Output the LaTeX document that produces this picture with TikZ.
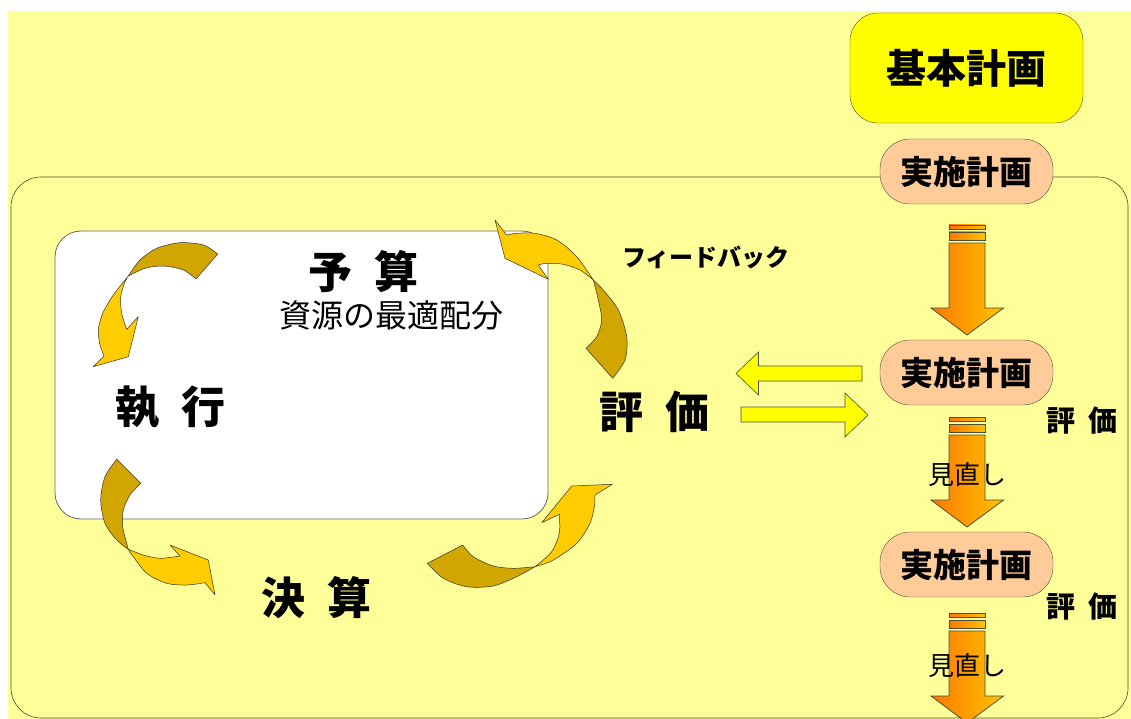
\documentclass[tikz,border=0pt]{standalone}
\usepackage{fontspec}
\setmainfont{Noto Sans CJK JP}
\definecolor{bgy}{HTML}{FFFF99}
\definecolor{boxy}{HTML}{FFFF00}
\definecolor{peach}{HTML}{FFCC99}
\definecolor{golddark}{HTML}{D1A600}
\definecolor{goldlight}{HTML}{FFCC00}
\definecolor{orA}{HTML}{FF7700}
\definecolor{orB}{HTML}{FFC400}
\definecolor{edge}{HTML}{4D4D33}
\tikzset{
  big/.style={font=\fontsize{44}{44}\selectfont\bfseries, inner sep=0pt},
  sub/.style={font=\fontsize{32}{32}\selectfont, inner sep=0pt},
  small/.style={font=\fontsize{29}{29}\selectfont\bfseries, inner sep=0pt},
  review/.style={font=\fontsize{26}{26}\selectfont, inner sep=0pt},
  fb/.style={font=\fontsize{24}{24}\selectfont\bfseries, inner sep=0pt},
  basebox/.style={draw=edge, fill=boxy, rounded corners=28pt, minimum width=233pt, minimum height=110pt, font=\fontsize{40}{40}\selectfont\bfseries, inner sep=0pt},
  pill/.style={draw=edge, fill=peach, rounded corners=30pt, minimum width=173pt, minimum height=65pt, font=\fontsize{33}{33}\selectfont\bfseries, inner sep=0pt},
  darkband/.style={fill=golddark, draw=black!80, line width=0.5pt, line join=round},
  lightband/.style={fill=goldlight, draw=black!80, line width=0.5pt, line join=round},
  yarrow/.style={fill=boxy, draw=edge, line width=0.6pt},
  oarrow/.style={left color=orA, right color=orB, draw=edge, line width=0.8pt}
}
\newcommand\blockdown[1]{%
  \shadedraw[oarrow] (949,#1) rectangle (985,{#1+4});
  \shadedraw[oarrow] (949,{#1+7}) rectangle (985,{#1+15});
  \shadedraw[oarrow] (949,{#1+18}) -- (949,{#1+83}) -- (931,{#1+83}) -- (967,{#1+110}) -- (1003.5,{#1+83}) -- (985,{#1+83}) -- (985,{#1+18}) -- cycle;
}
\begin{document}
\begin{tikzpicture}[x=1pt,y=-1pt]
\useasboundingbox (0,0) rectangle (1131,719);
\clip (0,0) rectangle (1131,719);
\fill[white] (0,0) rectangle (1131,719);
\fill[bgy] (8,11) rectangle (1131,719);
% outer frame
\draw[draw=edge, fill=bgy, line width=0.6pt, rounded corners=30pt] (11,177) rectangle (1128,718);
% inner white panel
\draw[draw=black!60, fill=white, line width=0.8pt, rounded corners=26pt] (55,231) rectangle (548,519);

% top box and plans
\node[basebox] (kihon) at (966.5,68) {基本計画};
\node[pill] (p1) at (966.5,171.5) {実施計画};
\node[pill] (p2) at (966.5,372.5) {実施計画};
\node[pill] (p3) at (966.5,564.5) {実施計画};

% down block arrows
\blockdown{225}
\blockdown{417}
\blockdown{613}

\node[review] (rev1) at (967,475) {見直し};
\node[review] (rev2) at (967,666) {見直し};
\node[small] (ev1) at (1082,421) {評\hspace{0.45em}価};
\node[small] (ev2) at (1082,607) {評\hspace{0.45em}価};

% yellow horizontal arrows
\filldraw[yarrow] (862,366) -- (758.5,366) -- (758.5,352) -- (736,373.5) -- (758.5,395) -- (758.5,381) -- (862,381) -- cycle;
\filldraw[yarrow] (741,407) -- (845,407) -- (845,393) -- (868,415) -- (845,437) -- (845,422) -- (741,422) -- cycle;

% cycle labels
\node[big] (yosan) at (363.5,272) {予\hspace{0.5em}算};
\node[sub] (shigen) at (391.5,315) {資源の最適配分};
\node[big] (shikko) at (170.5,407) {執\hspace{0.5em}行};
\node[big] (kessan) at (316,598) {決\hspace{0.5em}算};
\node[big] (hyoka) at (654,412) {評\hspace{0.5em}価};
\node[fb] (feedback) at (706,257) {フィードバック};

% curved arrow 1 (yosan -> shikko)
\filldraw[darkband] plot[smooth] coordinates {(217.7,254) (203.3,245) (180,242.7) (156.7,248.3) (140,260) (128.3,276)}
  -- plot[smooth] coordinates {(128.3,276) (145,268.3) (163.3,266) (183.3,270) (196,279)} -- cycle;
\filldraw[lightband] plot[smooth] coordinates {(128.3,276) (113.3,295) (102.7,313.3) (98.3,330) (100,345) (104,356)}
  -- (93.3,366.7) -- (128.3,356.7) -- (138.3,316.7) -- (126.7,329.3)
  -- plot[smooth] coordinates {(126.7,329.3) (121.7,313.3) (120.7,296.7) (125,281.7) (128.3,276)} -- cycle;

% curved arrow 4 (shikko -> kessan)
\filldraw[darkband] plot[smooth] coordinates {(116.7,459.3) (105,476.7) (100.7,500) (105,523.3) (116.7,540) (128.3,549.3)}
  -- plot[smooth] coordinates {(128.3,549.3) (126.7,543.3) (122.7,526.7) (123.3,510) (130,495) (140.7,483.3)} -- cycle;
\filldraw[lightband] plot[smooth] coordinates {(128.3,549.3) (143.3,555) (160,558.3) (180,556)}
  -- (170,545) -- (208.3,560) -- (215,595) -- (205,582.7)
  -- plot[smooth] coordinates {(205,582.7) (186.7,585) (166.7,583.3) (146.7,573.3) (133.3,556.7) (128.3,549.3)} -- cycle;

% curved arrow 3 (kessan -> hyoka)
\filldraw[darkband] plot[smooth] coordinates {(427.3,563.3) (443.3,578.3) (466.7,586.7) (493.3,586) (516.7,576.7) (535,566.7)}
  -- plot[smooth] coordinates {(535,566.7) (513.3,568.3) (493.3,566) (473.3,556.7) (462.7,545)} -- cycle;
\filldraw[lightband] plot[smooth] coordinates {(535,566.7) (553.3,560) (576.7,543.3) (590,523.3) (594.3,506.7) (595,495)}
  -- (612.3,484.3) -- (571.7,486) -- (541.7,522.7) -- (559.3,514.3)
  -- plot[smooth] coordinates {(559.3,514.3) (559.3,533.3) (551.7,551.7) (535,566.7)} -- cycle;

% curved arrow 2 (hyoka -> yosan)
\filldraw[darkband] plot[smooth] coordinates {(612.7,378.3) (625,360) (626.7,336.7) (618.3,310) (603.3,290) (593.3,280)}
  -- plot[smooth] coordinates {(593.3,280) (598.3,300) (601.7,320) (596.7,336.7) (586,348.3)} -- cycle;
\filldraw[lightband] plot[smooth] coordinates {(593.3,280) (580,270) (563.3,264.3) (546.7,263.3) (538.3,265)}
  -- (548.3,279.3) -- (505,258.3) -- (495,220) -- (506.7,235)
  -- plot[smooth] coordinates {(506.7,235) (516.7,233.3) (535,233.3) (556.7,240) (576.7,256.7) (593.3,280)} -- cycle;
\end{tikzpicture}
\end{document}
